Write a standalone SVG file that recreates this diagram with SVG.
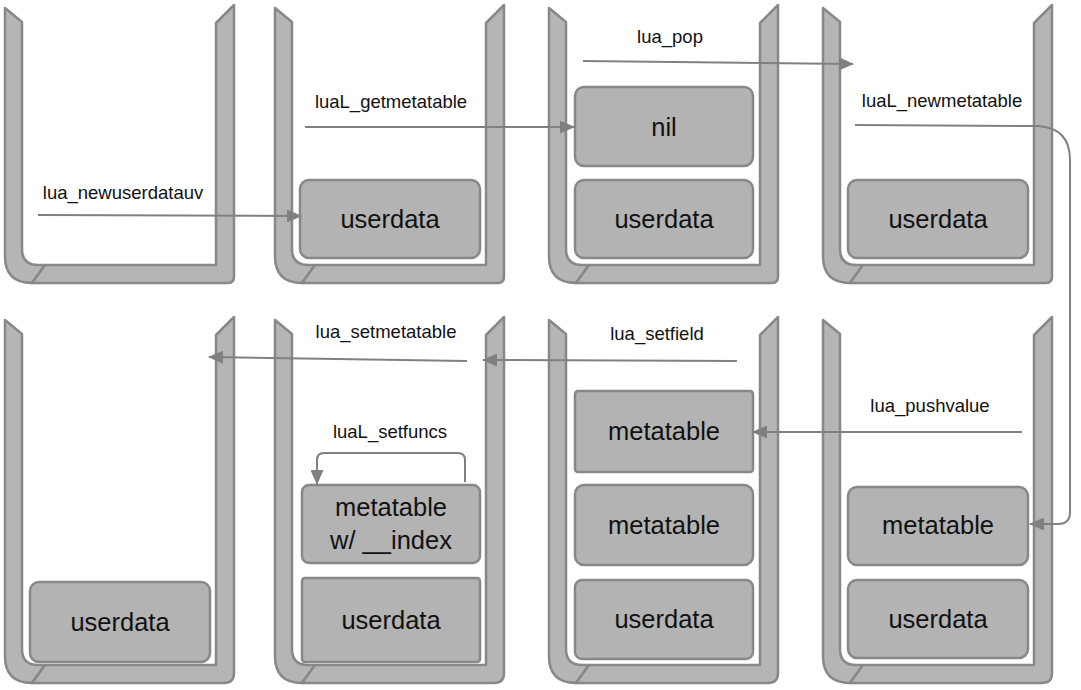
<svg xmlns="http://www.w3.org/2000/svg" xmlns:xlink="http://www.w3.org/1999/xlink" width="1081" height="690" viewBox="0 0 1081 690">
<style>
.wall{fill:#b5b5b5;stroke:#888;stroke-width:2.5;stroke-linejoin:round}
.blk{fill:#b3b3b3;stroke:#888;stroke-width:2.5}
.bt{font-family:"Liberation Sans",Arial,sans-serif;font-size:25.5px;fill:#111;text-anchor:middle}
.lt{font-family:"Liberation Sans",Arial,sans-serif;font-size:18.5px;fill:#111;text-anchor:middle}
.con{fill:none;stroke:#808080;stroke-width:2;marker-end:url(#ah)}
</style>
<defs>
<marker id="ah" markerUnits="userSpaceOnUse" markerWidth="15" markerHeight="13" refX="14" refY="6.5" orient="auto">
<path d="M0,0 L15,6.5 L0,13 Z" fill="#808080"/>
</marker>
<g id="cupTop">
<path class="wall" d="M0,3 L17,17 L17,244 Q17,260 33,260 L40,260 L27,278 Q0,278 0,251 Z"/>
<path class="wall" d="M40,260 L211,260 L211,18 L229,0 L229,272 Q229,278 223,278 L27,278 Z"/>
</g>
<g id="cupBot">
<path class="wall" d="M0,3 L17,17 L17,332 Q17,348 33,348 L40,348 L27,366 Q0,366 0,339 Z"/>
<path class="wall" d="M40,348 L211,348 L211,18 L229,0 L229,356 Q229,366 219,366 L27,366 Z"/>
</g>
</defs>
<rect width="1081" height="690" fill="#fff"/>

<g id="stack1">
<use xlink:href="#cupTop" x="5" y="5"/>
</g>
<g id="stack2">
<use xlink:href="#cupTop" x="275" y="5"/>
<g id="s2-userdata"><rect class="blk" x="300" y="180" width="180" height="78" rx="9"/><text class="bt" x="390" y="228">userdata</text></g>
</g>
<g id="stack3">
<use xlink:href="#cupTop" x="549" y="5"/>
<g id="s3-nil"><rect class="blk" x="575" y="87" width="178" height="79" rx="9"/><text class="bt" x="664" y="136">nil</text></g>
<g id="s3-userdata"><rect class="blk" x="575" y="180" width="178" height="78" rx="9"/><text class="bt" x="664" y="228">userdata</text></g>
</g>
<g id="stack4">
<use xlink:href="#cupTop" x="823" y="5"/>
<g id="s4-userdata"><rect class="blk" x="848" y="180" width="180" height="78" rx="9"/><text class="bt" x="938" y="228">userdata</text></g>
</g>

<g id="stack5">
<use xlink:href="#cupBot" x="5" y="317"/>
<g id="s5-userdata"><rect class="blk" x="30" y="582" width="180" height="80" rx="9"/><text class="bt" x="120" y="631">userdata</text></g>
</g>
<g id="stack6">
<use xlink:href="#cupBot" x="275" y="317"/>
<g id="s6-metatable"><rect class="blk" x="302" y="485" width="178" height="78" rx="7"/><text class="bt" x="391" y="516">metatable</text><text class="bt" x="391" y="549">w/ __index</text></g>
<g id="s6-userdata"><rect class="blk" x="302" y="578" width="178" height="84" rx="3"/><text class="bt" x="391" y="629">userdata</text></g>
</g>
<g id="stack7">
<use xlink:href="#cupBot" x="549" y="317"/>
<g id="s7-metatable1"><rect class="blk" x="575" y="391" width="178" height="81" rx="3"/><text class="bt" x="664" y="440">metatable</text></g>
<g id="s7-metatable2"><rect class="blk" x="575" y="485" width="178" height="80" rx="9"/><text class="bt" x="664" y="534">metatable</text></g>
<g id="s7-userdata"><rect class="blk" x="575" y="580" width="178" height="79" rx="7"/><text class="bt" x="664" y="628">userdata</text></g>
</g>
<g id="stack8">
<use xlink:href="#cupBot" x="823" y="317"/>
<g id="s8-metatable"><rect class="blk" x="848" y="487" width="180" height="78" rx="9"/><text class="bt" x="938" y="534">metatable</text></g>
<g id="s8-userdata"><rect class="blk" x="848" y="580" width="180" height="78" rx="9"/><text class="bt" x="938" y="628">userdata</text></g>
</g>

<g id="connectors">
<path class="con" d="M38,215 L301,216"/>
<path class="con" d="M305,127 L574,127"/>
<path class="con" d="M583,61 L853,64"/>
<path class="con" d="M855,125 L1038,126 Q1070,128 1070,160 L1070,512 Q1070,524 1058,524 L1030,524"/>
<path class="con" d="M1022,432 L753,432"/>
<path class="con" d="M737,361 L483,360"/>
<path class="con" d="M467,361 L209,357"/>
<path class="con" d="M465,482 L465,460 Q465,453 458,453 L324,453 Q317,453 317,460 L317,484"/>
<text class="lt" x="123" y="199">lua_newuserdatauv</text>
<text class="lt" x="391" y="108">luaL_getmetatable</text>
<text class="lt" x="670" y="43">lua_pop</text>
<text class="lt" x="942" y="107">luaL_newmetatable</text>
<text class="lt" x="930" y="412">lua_pushvalue</text>
<text class="lt" x="657" y="340">lua_setfield</text>
<text class="lt" x="386" y="338">lua_setmetatable</text>
<text class="lt" x="390" y="438">luaL_setfuncs</text>
</g>
</svg>
